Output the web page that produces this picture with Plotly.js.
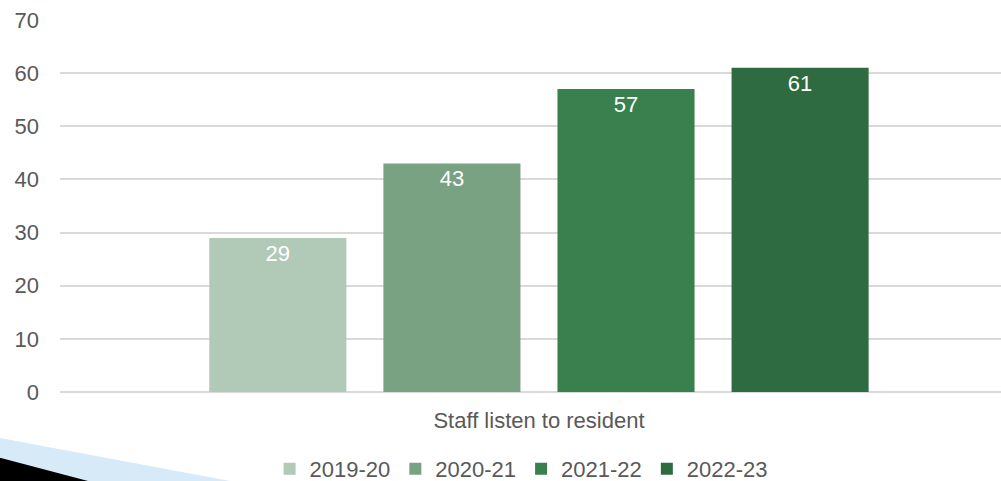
<!DOCTYPE html>
<html>
<head>
<meta charset="utf-8">
<script src="https://cdn.plot.ly/plotly-3.0.1.min.js"></script>
<style>html,body{margin:0;padding:0;background:#fff;}#chart{width:1001px;height:481px;}</style>
</head>
<body>
<div id="chart"></div>
<script>
const categories = ["Staff listen to resident"];
const seriesNames = ["2019-20", "2020-21", "2021-22", "2022-23"];
const seriesValues = [[29], [43], [57], [61]];
const seriesColors = ["#B1C9B7", "#78A282", "#3A7F4E", "#2E6B40"];
const yTicks = [0, 10, 20, 30, 40, 50, 60, 70];

const font = "Liberation Sans, Arial, sans-serif";
const traces = seriesNames.map((name, i) => ({
  type: "bar",
  name: name,
  x: categories,
  y: seriesValues[i],
  text: seriesValues[i].map(String),
  textposition: "inside",
  insidetextanchor: "end",
  textfont: {family: font, size: 22, color: "#FFFFFF"},
  marker: {color: seriesColors[i]},
  hoverinfo: "none",
  cliponaxis: false
}));

const layout = {
  width: 1001, height: 481,
  margin: {l: 60, r: 0, t: 20, b: 89},
  paper_bgcolor: "#FFFFFF", plot_bgcolor: "#FFFFFF",
  font: {family: font, color: "#595959", size: 22},
  barmode: "group",
  bargap: 0.26,
  bargroupgap: 0.2126,
  showlegend: true,
  legend: {orientation: "h", x: 0.49, xanchor: "center", yref: "container", y: 0.025, yanchor: "middle",
           font: {family: font, size: 22, color: "#595959"}, traceorder: "normal",
           itemwidth: 30},
  xaxis: {type: "category", range: [-0.509, 0.491], showgrid: false, zeroline: false,
          showline: false, ticks: "", ticklabelstandoff: 13, tickfont: {size: 22, color: "#595959"}, fixedrange: true},
  yaxis: {range: [0, 70], tickvals: yTicks, ticktext: yTicks.map(String), showgrid: true,
          gridcolor: "#D9D9D9", gridwidth: 2, zeroline: true, zerolinecolor: "#D9D9D9", zerolinewidth: 2,
          showline: false, ticks: "", ticklabelstandoff: 20, tickfont: {size: 22, color: "#595959"}, fixedrange: true},
  shapes: [
    {type: "path", xref: "paper", yref: "paper",
     path: "M -0.0638 -0.1237 L 0.1807 -0.239 L -0.0638 -0.239 Z",
     fillcolor: "#D6EAF8", line: {width: 0}, layer: "above"},
    {type: "path", xref: "paper", yref: "paper",
     path: "M -0.0638 -0.177 L 0.0298 -0.239 L -0.0638 -0.239 Z",
     fillcolor: "#000000", line: {width: 0}, layer: "above"}
  ]
};

Plotly.newPlot("chart", traces, layout, {displayModeBar: false, staticPlot: true});
</script>
</body>
</html>
